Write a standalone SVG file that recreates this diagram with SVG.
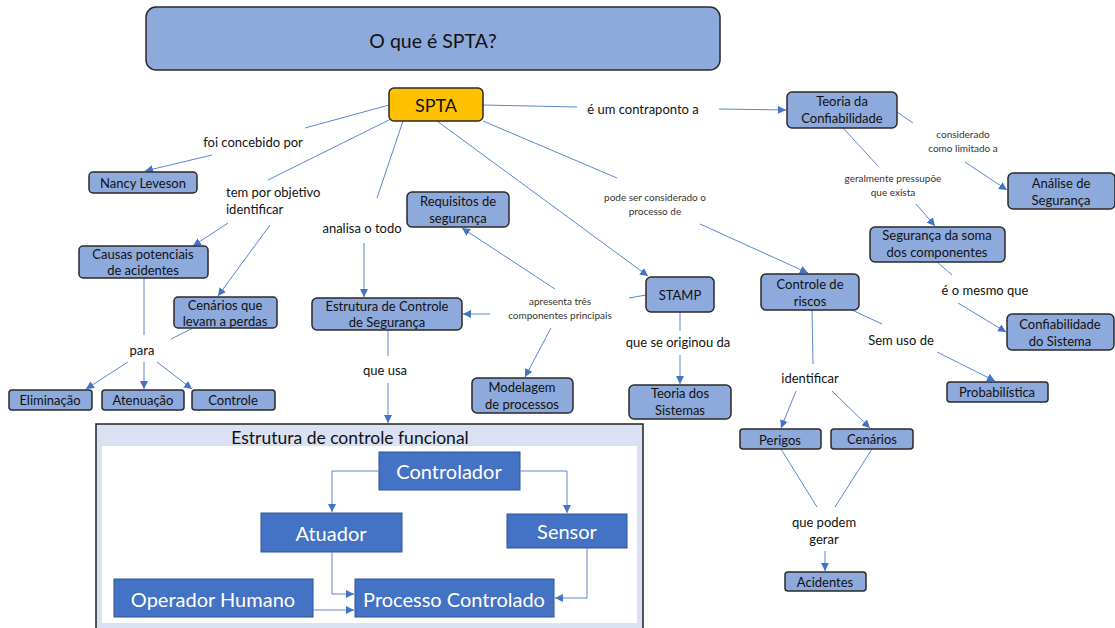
<svg xmlns="http://www.w3.org/2000/svg" width="1115" height="628" viewBox="0 0 1115 628">
  <style>
    text { font-family: Lato, "Open Sans", "Liberation Sans", sans-serif; fill: #111; text-anchor: middle; dominant-baseline: central; }
    .node rect { fill: #8EA9DB; stroke: #2a2a2a; stroke-width: 1.5; }
    .node text { font-size: 13px; }
    .lbl { font-size: 13px; }
    .sm { font-size: 10px; fill: #333; }
    .con line, .con polyline { stroke: #5B86D0; stroke-width: 1; fill: none; }
    .arr { marker-end: url(#ah); }
    .fbox rect { fill: #4472C4; stroke: #2F5597; stroke-width: 1; }
    .fbox text { fill: #fff; font-size: 20px; }
  </style>
  <defs>
    <marker id="ah" viewBox="0 0 10 10" refX="10" refY="5" markerWidth="8" markerHeight="8" markerUnits="userSpaceOnUse" orient="auto">
      <path d="M0,0 L10,5 L0,10 z" fill="#4472C4"/>
    </marker>
  </defs>
  <rect width="1115" height="628" fill="#fff"/>

  <!-- title -->
  <g id="title" class="node">
    <rect x="146" y="7" width="574" height="63" rx="10"/>
    <text x="433" y="40" style="font-size:19.5px">O que é SPTA?</text>
  </g>

  <!-- functional control structure panel -->
  <g id="funcional">
    <rect x="96" y="424" width="547" height="210" fill="#D9E1F2" stroke="#222" stroke-width="1.5"/>
    <rect x="102" y="446" width="535" height="177" fill="#fff"/>
    <text x="350" y="437" style="font-size:17.5px">Estrutura de controle funcional</text>
    <g id="controlador" class="fbox"><rect x="379" y="452" width="141" height="38"/><text x="449" y="471">Controlador</text></g>
    <g id="atuador" class="fbox"><rect x="261" y="513" width="141" height="39"/><text x="331" y="533">Atuador</text></g>
    <g id="sensor" class="fbox"><rect x="507" y="514" width="120" height="34"/><text x="567" y="531">Sensor</text></g>
    <g id="operador" class="fbox"><rect x="114" y="579" width="199" height="38"/><text x="213" y="599">Operador Humano</text></g>
    <g id="processo" class="fbox"><rect x="355" y="579" width="199" height="38"/><text x="454" y="599">Processo Controlado</text></g>
  </g>

  <!-- connectors -->
  <g id="connectors" class="con">
    <!-- SPTA branches -->
    <line x1="389" y1="105" x2="305" y2="128"/>
    <line x1="212" y1="155" x2="145" y2="171" class="arr"/>
    <line x1="391" y1="119" x2="268" y2="180"/>
    <line x1="228" y1="223" x2="193" y2="246" class="arr"/>
    <line x1="270" y1="225" x2="218" y2="296" class="arr"/>
    <line x1="403" y1="121" x2="377" y2="198"/>
    <line x1="364" y1="243" x2="364" y2="297" class="arr"/>
    <line x1="483" y1="105" x2="577" y2="107"/>
    <line x1="719" y1="109" x2="786" y2="110" class="arr"/>
    <line x1="437" y1="121" x2="648" y2="276" class="arr"/>
    <line x1="483" y1="121" x2="617" y2="178"/>
    <line x1="700" y1="224" x2="808" y2="273" class="arr"/>
    <!-- causes / scenarios -->
    <line x1="144" y1="278" x2="144" y2="335"/>
    <line x1="193" y1="328" x2="171" y2="339"/>
    <line x1="128" y1="362" x2="86" y2="389" class="arr"/>
    <line x1="144" y1="362" x2="144" y2="389" class="arr"/>
    <line x1="157" y1="362" x2="192" y2="389" class="arr"/>
    <!-- control structure -->
    <line x1="388" y1="330" x2="388" y2="356"/>
    <line x1="388" y1="383" x2="388" y2="423" class="arr"/>
    <line x1="555" y1="289" x2="462" y2="228" class="arr"/>
    <line x1="490" y1="314" x2="463" y2="314" class="arr"/>
    <line x1="551" y1="328" x2="525" y2="377" class="arr"/>
    <line x1="646" y1="295" x2="629" y2="298"/>
    <!-- STAMP -->
    <line x1="680" y1="312" x2="680" y2="331"/>
    <line x1="680" y1="355" x2="680" y2="384" class="arr"/>
    <!-- reliability theory -->
    <line x1="897" y1="112" x2="913" y2="123"/>
    <line x1="965" y1="162" x2="1007" y2="190" class="arr"/>
    <line x1="843" y1="128" x2="878" y2="166"/>
    <line x1="916" y1="204" x2="935" y2="226" class="arr"/>
    <line x1="937" y1="262" x2="952" y2="275"/>
    <line x1="958" y1="303" x2="1006" y2="332" class="arr"/>
    <!-- risk control -->
    <line x1="812" y1="310" x2="813" y2="364"/>
    <line x1="796" y1="391" x2="781" y2="428" class="arr"/>
    <line x1="832" y1="391" x2="870" y2="428" class="arr"/>
    <line x1="852" y1="310" x2="882" y2="324"/>
    <line x1="937" y1="352" x2="995" y2="381" class="arr"/>
    <line x1="781" y1="449" x2="817" y2="507"/>
    <line x1="872" y1="449" x2="835" y2="507"/>
    <line x1="825" y1="551" x2="825" y2="571" class="arr"/>
    <!-- functional structure -->
    <polyline points="379,471 332,471 332,512" class="arr"/>
    <polyline points="520,471 567,471 567,513" class="arr"/>
    <polyline points="332,552 332,594 354,594" class="arr"/>
    <polyline points="587,548 587,598 555,598" class="arr"/>
    <line x1="313" y1="610" x2="354" y2="610" class="arr"/>
  </g>

  <!-- link labels -->
  <g id="labels">
    <text x="253" y="142" class="lbl">foi concebido por</text>
    <text x="226" y="192" class="lbl" style="text-anchor:start">tem por objetivo</text>
    <text x="226" y="209" class="lbl" style="text-anchor:start">identificar</text>
    <text x="362" y="228" class="lbl">analisa o todo</text>
    <text x="142" y="350" class="lbl">para</text>
    <text x="385" y="370" class="lbl">que usa</text>
    <text x="560" y="301" class="sm">apresenta três</text>
    <text x="560" y="315" class="sm">componentes principais</text>
    <text x="643" y="109" class="lbl">é um contraponto a</text>
    <text x="655" y="197" class="sm">pode ser considerado o</text>
    <text x="655" y="211" class="sm">processo de</text>
    <text x="963" y="134" class="sm">considerado</text>
    <text x="963" y="148" class="sm">como limitado a</text>
    <text x="893" y="178" class="sm">geralmente pressupõe</text>
    <text x="893" y="192" class="sm">que exista</text>
    <text x="985" y="290" class="lbl">é o mesmo que</text>
    <text x="678" y="342" class="lbl">que se originou da</text>
    <text x="901" y="340" class="lbl">Sem uso de</text>
    <text x="810" y="378" class="lbl">identificar</text>
    <text x="824" y="522" class="lbl">que podem</text>
    <text x="824" y="539" class="lbl">gerar</text>
  </g>

  <!-- concept nodes -->
  <g id="spta" class="node">
    <rect x="389" y="88" width="94" height="33" rx="5" style="fill:#FFC000"/>
    <text x="436" y="105" style="font-size:18px">SPTA</text>
  </g>
  <g id="nancy" class="node"><rect x="89" y="172" width="108" height="21" rx="4"/><text x="143" y="182.5">Nancy Leveson</text></g>
  <g id="causas" class="node"><rect x="79" y="246" width="129" height="32" rx="4"/><text x="143" y="254">Causas potenciais</text><text x="143" y="270">de acidentes</text></g>
  <g id="cenarios-perdas" class="node"><rect x="174" y="297" width="103" height="31" rx="4"/><text x="225" y="305">Cenários que</text><text x="225" y="321">levam a perdas</text></g>
  <g id="eliminacao" class="node"><rect x="9" y="390" width="83" height="20" rx="3"/><text x="50" y="400">Eliminação</text></g>
  <g id="atenuacao" class="node"><rect x="102" y="390" width="82" height="20" rx="3"/><text x="143" y="400">Atenuação</text></g>
  <g id="controle" class="node"><rect x="192" y="390" width="83" height="20" rx="3"/><text x="233" y="400">Controle</text></g>
  <g id="requisitos" class="node"><rect x="407" y="192" width="102" height="35" rx="5"/><text x="458" y="201">Requisitos de</text><text x="458" y="218">segurança</text></g>
  <g id="estrutura" class="node"><rect x="312" y="298" width="150" height="32" rx="5"/><text x="387" y="306">Estrutura de Controle</text><text x="387" y="322">de Segurança</text></g>
  <g id="modelagem" class="node"><rect x="472" y="378" width="101" height="35" rx="5"/><text x="522" y="387">Modelagem</text><text x="522" y="404">de processos</text></g>
  <g id="stamp" class="node"><rect x="646" y="277" width="68" height="35" rx="5"/><text x="680" y="295">STAMP</text></g>
  <g id="teoria-sistemas" class="node"><rect x="629" y="385" width="102" height="34" rx="5"/><text x="680" y="393">Teoria dos</text><text x="680" y="410">Sistemas</text></g>
  <g id="teoria-confiabilidade" class="node"><rect x="787" y="92" width="110" height="36" rx="5"/><text x="842" y="101">Teoria da</text><text x="842" y="118">Confiabilidade</text></g>
  <g id="analise" class="node"><rect x="1008" y="173" width="107" height="36" rx="5"/><text x="1061" y="183">Análise de</text><text x="1061" y="200">Segurança</text></g>
  <g id="soma" class="node"><rect x="870" y="227" width="135" height="35" rx="5"/><text x="937" y="235">Segurança da soma</text><text x="937" y="252">dos componentes</text></g>
  <g id="controle-riscos" class="node"><rect x="761" y="274" width="98" height="36" rx="5"/><text x="810" y="284">Controle de</text><text x="810" y="301">riscos</text></g>
  <g id="confiabilidade-sistema" class="node"><rect x="1007" y="314" width="107" height="36" rx="5"/><text x="1060" y="324">Confiabilidade</text><text x="1060" y="341">do Sistema</text></g>
  <g id="probabilistica" class="node"><rect x="947" y="382" width="101" height="20" rx="3"/><text x="997" y="392">Probabilística</text></g>
  <g id="perigos" class="node"><rect x="740" y="429" width="81" height="20" rx="3"/><text x="780" y="440">Perigos</text></g>
  <g id="cenarios" class="node"><rect x="831" y="429" width="82" height="20" rx="3"/><text x="872" y="439">Cenários</text></g>
  <g id="acidentes" class="node"><rect x="785" y="572" width="81" height="19" rx="3"/><text x="825" y="582">Acidentes</text></g>
</svg>
